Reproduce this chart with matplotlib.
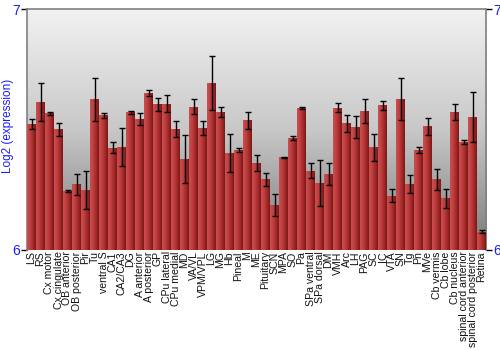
import numpy as np
import matplotlib
matplotlib.use("Agg")
import matplotlib.pyplot as plt
from matplotlib.colors import LinearSegmentedColormap

plt.rcParams["font.family"] = ["Liberation Sans", "DejaVu Sans"]

regions = [
    "LS", "RS", "Cx motor", "Cx cingulate", "OB anterior", "OB posterior", "Pir", "Tu",
    "ventral S", "CA1", "CA2/CA3", "DG", "A anterior", "A posterior", "GP", "CPu lateral",
    "CPu medial", "MD", "VA/VL", "VPM/VPL", "LG", "MG", "Hb", "Pineal", "M", "ME",
    "Pituitary", "SCN", "MPA", "SO", "Pa", "SPa ventral", "SPa dorsal", "DM", "VMH", "Arc",
    "LH", "PAG", "SC", "IC", "VTA", "SN", "Tg", "Pn", "MVe", "Cb vermis", "Cb lobe",
    "Cb nucleus", "spinal cord anterior", "spinal cord posterior", "Retina",
]
expression = [
    6.523, 6.615, 6.567, 6.501, 6.246, 6.272, 6.250, 6.625,
    6.559, 6.425, 6.427, 6.571, 6.544, 6.653, 6.604, 6.607,
    6.502, 6.376, 6.595, 6.506, 6.692, 6.573, 6.402, 6.415, 6.539, 6.361,
    6.293, 6.187, 6.385, 6.465, 6.589, 6.328, 6.279, 6.314, 6.591, 6.526,
    6.510, 6.577, 6.427, 6.600, 6.225, 6.627, 6.275, 6.416, 6.513, 6.293, 6.214,
    6.573, 6.449, 6.552, 6.076,
]
errors = [
    0.020, 0.079, 0.007, 0.028, 0.004, 0.045, 0.079, 0.090,
    0.010, 0.024, 0.080, 0.006, 0.026, 0.012, 0.027, 0.035,
    0.034, 0.100, 0.030, 0.030, 0.113, 0.022, 0.079, 0.008, 0.035, 0.035,
    0.028, 0.046, 0.002, 0.008, 0.005, 0.031, 0.096, 0.046, 0.017, 0.035,
    0.046, 0.048, 0.056, 0.020, 0.026, 0.086, 0.038, 0.012, 0.036, 0.044, 0.038,
    0.033, 0.008, 0.104, 0.005,
]
y_ticks = [6, 7]

fig = plt.figure(figsize=(5, 3.5), dpi=100)
ax = fig.add_axes([0.054, 0.286, 0.918, 0.688])

x = np.arange(len(regions))
n = len(regions)
ax.set_xlim(-0.5, n - 0.5)
ax.set_ylim(6, 7)

# background gradient (light at top, grey at bottom)
bg = LinearSegmentedColormap.from_list("bg", ["#f2f2f2", "#c8c8c8", "#7a7a7a"])
ax.imshow(np.linspace(0, 1, 256).reshape(-1, 1), aspect="auto", cmap=bg,
          extent=(-0.5, n - 0.5, 6, 7), origin="upper", zorder=0)

bars = ax.bar(x, np.array(expression) - 6, bottom=6, width=0.92,
              color="#b03030", edgecolor="none", zorder=2)

# horizontal shading on each bar
redmap = LinearSegmentedColormap.from_list("red", ["#c85050", "#c04040", "#a52a2a", "#7a1818"])
grad = np.linspace(0, 1, 64).reshape(1, -1)
for b in bars:
    x0, y0 = b.get_x(), b.get_y()
    im = ax.imshow(grad, aspect="auto", cmap=redmap,
                   extent=(x0, x0 + b.get_width(), y0, y0 + b.get_height()), zorder=3)
    im.set_clip_path(b)

ax.errorbar(x, expression, yerr=errors, fmt="none", ecolor="black",
            elinewidth=1.0, capsize=2.2, capthick=1.0, zorder=4)

ax.set_xticks(x)
ax.set_xticklabels(regions, rotation=90, fontsize=7.6, color="#111111")
ax.tick_params(axis="x", length=0, pad=1)

ax.set_yticks(y_ticks)
ax.set_yticklabels([str(t) for t in y_ticks], color="#1a1aff", fontsize=10)
ax.tick_params(axis="y", which="both", left=True, right=True, labelleft=True,
               labelright=True, length=4, width=1, color="black", pad=1)

fig.text(0.017, 0.64, "Log2 (expression)", color="#1a1aff", fontsize=8.5,
         rotation=90, ha="center", va="center")

for side in ["top", "left", "right"]:
    ax.spines[side].set_color("#808080")
    ax.spines[side].set_linewidth(1.2)
ax.spines["bottom"].set_visible(False)

fig.savefig("out.png", dpi=100)
